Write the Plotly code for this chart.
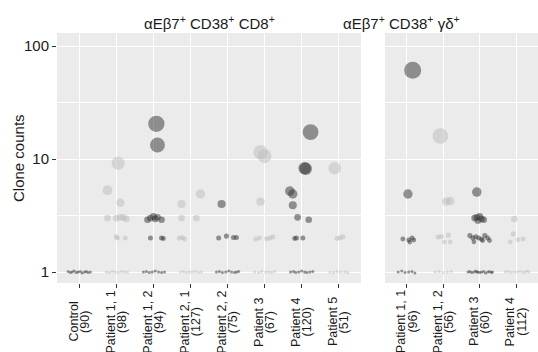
import math
import plotly.graph_objects as go

# ---------------- data ----------------
left_names = ["Control", "Patient 1, 1", "Patient 1, 2", "Patient 2, 1", "Patient 2, 2",
              "Patient 3", "Patient 4", "Patient 5"]
left_n = ["(90)", "(98)", "(94)", "(127)", "(75)", "(67)", "(120)", "(51)"]
right_names = ["Patient 1, 1", "Patient 1, 2", "Patient 3", "Patient 4"]
right_n = ["(96)", "(56)", "(60)", "(112)"]

# clone counts per sample (y) and horizontal jitter (category units)
ctrl_counts = [1.01, 0.99, 1.0, 1.02, 0.99, 1.0, 1.01, 0.98, 1.0, 1.01, 0.99, 1.0]
ctrl_jitter = [-0.30, -0.24, -0.19, -0.14, -0.08, -0.03, 0.03, 0.08, 0.14, 0.19, 0.24, 0.30]

p11_counts = [9.2, 5.3, 4.1, 3.0, 3.0, 3.05, 3.05, 2.95, 2.05, 2.0, 2.0,
              1.0, 0.99, 1.01, 1.0, 0.99, 1.01, 1.0, 1.0]
p11_jitter = [0.05, -0.24, 0.11, -0.24, 0.0, 0.11, 0.19, 0.27, 0.0, 0.03, 0.24,
              -0.27, -0.19, -0.11, -0.03, 0.05, 0.14, 0.22, 0.30]

p12_counts = [20.5, 13.3, 2.9, 3.0, 3.1, 2.95, 3.05, 2.9, 2.0, 2.0, 1.98,
              1.0, 1.01, 0.99, 1.0, 1.02, 1.0, 0.99, 1.0]
p12_jitter = [0.08, 0.11, -0.16, -0.08, 0.0, 0.05, 0.11, 0.22, -0.08, 0.22, 0.27,
              -0.27, -0.19, -0.11, -0.03, 0.05, 0.14, 0.22, 0.30]

p21_counts = [4.9, 4.0, 3.0, 3.0, 2.0, 2.02, 1.95,
              1.0, 1.01, 0.99, 1.0, 1.0, 1.01, 0.99, 1.0]
p21_jitter = [0.27, -0.24, -0.24, 0.16, -0.30, -0.22, -0.16,
              -0.27, -0.19, -0.11, -0.03, 0.05, 0.14, 0.22, 0.30]

p22_counts = [4.0, 2.0, 2.08, 2.02, 2.02,
              1.0, 1.01, 0.99, 1.0, 1.02, 1.0, 0.99, 1.0, 1.01]
p22_jitter = [-0.16, -0.24, -0.03, 0.16, 0.24,
              -0.30, -0.22, -0.14, -0.05, 0.03, 0.11, 0.19, 0.24, 0.30]

p3_counts = [11.5, 10.6, 4.2, 1.95, 2.0, 2.0, 2.05, 1.97,
             1.0, 0.99, 1.01, 1.0, 1.0, 0.99, 1.01]
p3_jitter = [-0.11, 0.0, -0.11, -0.24, -0.14, 0.14, 0.22, 0.05,
             -0.27, -0.16, -0.08, 0.03, 0.11, 0.19, 0.27]

p4_counts = [17.3, 8.3, 8.2, 5.2, 4.9, 3.9, 3.05, 2.9, 1.98, 2.0, 2.0,
             1.0, 1.01, 0.99, 1.0, 1.02, 1.0, 0.99, 1.0, 1.01]
p4_jitter = [0.24, 0.08, 0.11, -0.32, -0.24, -0.24, -0.11, 0.19, -0.19, -0.14, 0.03,
             -0.30, -0.22, -0.16, -0.08, 0.0, 0.08, 0.14, 0.22, 0.30]

p5_counts = [8.3, 1.98, 2.0, 2.05,
             1.0, 0.99, 1.01, 1.0, 1.0, 0.99]
p5_jitter = [-0.11, -0.05, 0.03, 0.11,
             -0.24, -0.14, -0.05, 0.05, 0.16, 0.24]

g11_counts = [61, 4.9, 1.96, 1.92, 2.0, 1.92, 1.84,
              1.0, 1.02, 0.99, 1.0, 1.01, 0.98]
g11_jitter = [0.16, 0.03, -0.11, 0.05, 0.14, 0.19, 0.08,
              -0.24, -0.14, -0.05, 0.05, 0.14, 0.22]

g12_counts = [16, 4.2, 4.25, 2.04, 2.06, 2.12, 1.84, 1.84,
              1.0, 1.01, 0.99, 1.0, 1.01]
g12_jitter = [-0.08, 0.08, 0.19, -0.14, -0.05, 0.14, 0.03, 0.19,
              -0.22, -0.11, 0.0, 0.11, 0.22]

g3_counts = [5.1, 3.0, 3.05, 3.1, 2.95, 2.9, 2.85,
             2.1, 2.0, 2.05, 2.0, 1.95, 2.1, 2.0, 1.9, 1.85, 1.9,
             1.0, 1.01, 0.99, 1.0, 1.02, 1.0, 0.99, 1.0, 1.01, 0.98, 1.0, 1.01, 0.99, 1.0, 1.0]
g3_jitter = [-0.08, -0.14, -0.08, 0.0, 0.05, 0.11, -0.05,
             -0.27, -0.19, -0.11, -0.03, 0.05, 0.14, 0.22, 0.27, -0.16, 0.08,
             -0.32, -0.27, -0.22, -0.16, -0.11, -0.05, 0.0, 0.05, 0.11, 0.16, 0.22, 0.27, 0.32, 0.35, -0.08]

g4_counts = [2.94, 2.17, 1.85, 1.93, 1.96,
             1.0, 1.01, 0.99, 1.0, 1.0, 1.01, 0.99, 1.0, 1.02, 1.0]
g4_jitter = [-0.05, -0.08, -0.16, 0.05, 0.19,
             -0.30, -0.22, -0.14, -0.05, 0.03, 0.11, 0.19, 0.24, 0.30, 0.35]

left_groups = [(ctrl_counts, ctrl_jitter), (p11_counts, p11_jitter), (p12_counts, p12_jitter),
               (p21_counts, p21_jitter), (p22_counts, p22_jitter), (p3_counts, p3_jitter),
               (p4_counts, p4_jitter), (p5_counts, p5_jitter)]
right_groups = [(g11_counts, g11_jitter), (g12_counts, g12_jitter),
                (g3_counts, g3_jitter), (g4_counts, g4_jitter)]

# ---------------- styling ----------------
DARK = "rgba(55,55,55,0.74)"
LIGHT = "rgba(188,188,188,0.72)"
FONT = "Liberation Sans, Arial, sans-serif"
TXT = "#1a1a1a"


def size_of(v):
    return 3 + 14 * (1 - math.exp(-0.154 * max(v - 1, 0)))


fig = go.Figure()


def add_groups(groups, xa, ya):
    for i, (counts, jit) in enumerate(groups):
        col = DARK if i % 2 == 0 else LIGHT
        fig.add_trace(go.Scatter(
            x=[i + j for j in jit], y=counts, mode="markers",
            xaxis=xa, yaxis=ya, showlegend=False, hoverinfo="skip",
            marker=dict(color=col, size=[size_of(v) for v in counts],
                        line=dict(width=0))))


add_groups(left_groups, "x", "y")
add_groups(right_groups, "x2", "y2")

W, H = 538, 352
L1, R1 = 57, 361
L2, R2 = 385, 538
TOP, BOT = 33, 283
LABEL_CY = 322  # vertical centre of the rotated category labels (px)

yrange = [-0.097, 2.115]
yax = dict(type="log", range=yrange, showgrid=True, gridcolor="white", gridwidth=1.1,
           zeroline=False, showline=False,
           minor=dict(tickvals=[10 ** 0.5, 10 ** 1.5], showgrid=True,
                      gridcolor="white", gridwidth=0.5, ticks=""),
           domain=[0, 1])

xcommon = dict(showgrid=True, gridcolor="white", gridwidth=1.1, zeroline=False,
               showline=False, ticks="outside", ticklen=4, tickcolor="#333333",
               tickwidth=1, showticklabels=False)

fig.update_layout(
    width=W, height=H,
    margin=dict(l=0, r=0, t=TOP, b=H - BOT, autoexpand=False),
    paper_bgcolor="white", plot_bgcolor="#EBEBEB",
    font=dict(family=FONT, color=TXT),
    xaxis=dict(domain=[L1 / W, R1 / W], range=[-0.6, 7.6],
               tickvals=list(range(len(left_names))), **xcommon),
    xaxis2=dict(domain=[L2 / W, R2 / W], range=[-0.6, 3.6],
                tickvals=list(range(len(right_names))), anchor="y2", **xcommon),
    yaxis=dict(anchor="x", tickvals=[1, 10, 100], ticktext=["1", "10", "100"],
               ticks="outside", ticklen=4, tickcolor="#333333",
               tickfont=dict(family=FONT, size=15, color=TXT), **yax),
    yaxis2=dict(anchor="x2", matches="y", showticklabels=False, ticks="",
                tickvals=[1, 10, 100], **yax),
)

# rotated two-line category labels (centred lines, like the reference)
label_y = -(LABEL_CY - BOT) / (BOT - TOP)
for xref, names, ns in (("x", left_names, left_n), ("x2", right_names, right_n)):
    for i, (nm, n) in enumerate(zip(names, ns)):
        for txt, shift in ((nm, -5.7), (n, 5.7)):
            fig.add_annotation(text=txt, xref=xref, yref="paper", x=i, y=label_y,
                               xshift=shift, xanchor="center", yanchor="middle",
                               textangle=-90, showarrow=False,
                               font=dict(family=FONT, size=12.5, color=TXT))

t1 = "αEβ7<sup>+</sup> CD38<sup>+</sup> CD8<sup>+</sup>"
t2 = "αEβ7<sup>+</sup> CD38<sup>+</sup> γδ<sup>+</sup>"

fig.add_annotation(text=t1, xref="paper", yref="paper", x=((L1 + R1) / 2) / W,
                   y=1, yshift=-1, yanchor="bottom", showarrow=False,
                   font=dict(family=FONT, size=15, color=TXT))
fig.add_annotation(text=t2, xref="paper", yref="paper", x=((L2 + R2) / 2) / W,
                   y=1, yshift=-1, yanchor="bottom", showarrow=False,
                   font=dict(family=FONT, size=15, color=TXT))
fig.add_annotation(text="Clone counts", xref="paper", yref="paper",
                   x=18 / W, y=0.5, xanchor="center", yanchor="middle",
                   textangle=-90, showarrow=False,
                   font=dict(family=FONT, size=15, color=TXT))

fig.write_html("out.html", config={"displayModeBar": False},
               post_script="document.body.style.margin='0';document.body.style.padding='0';")
